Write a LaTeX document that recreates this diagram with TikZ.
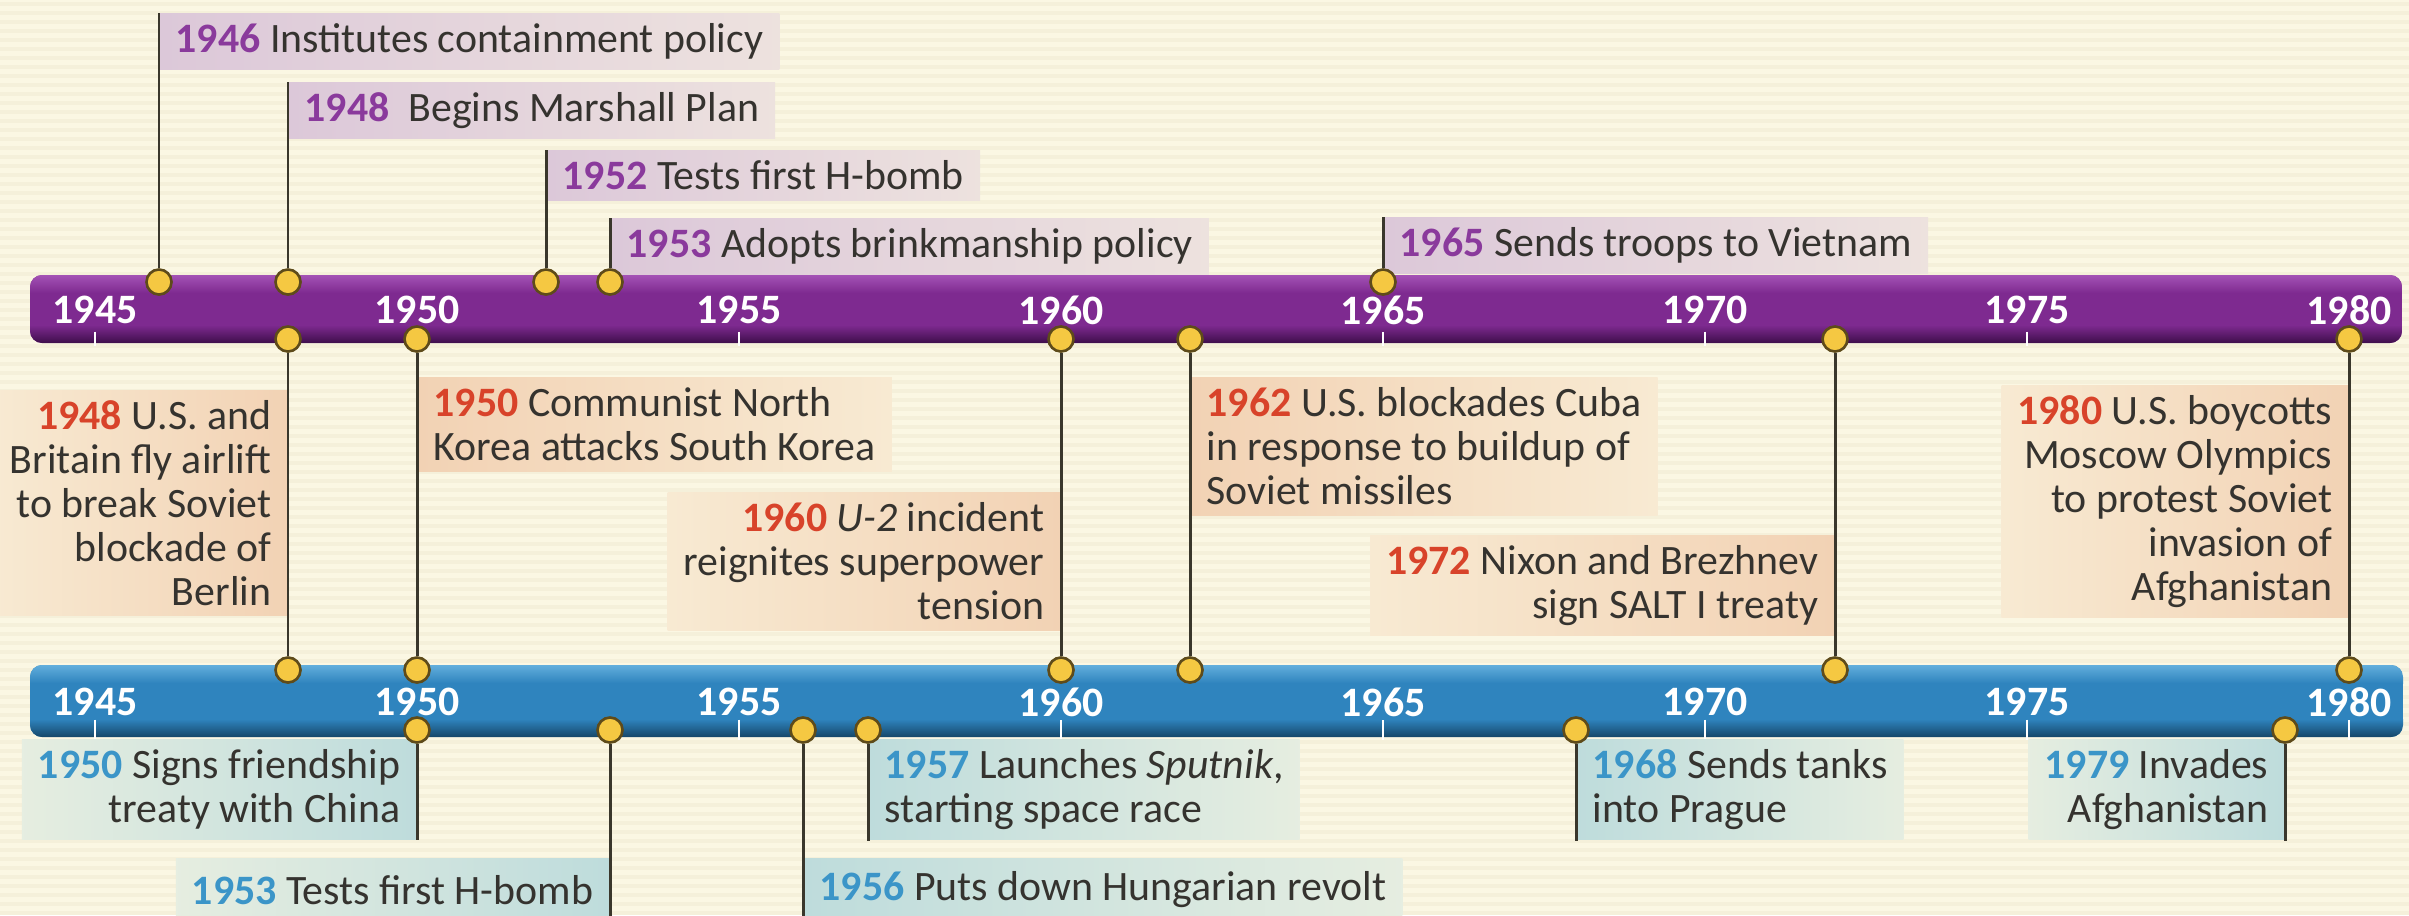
\documentclass[tikz,border=0pt]{standalone}
\usepackage{fontspec}
\setmainfont{Carlito}
\usepackage{xcolor}
\usepackage{tikz}
\usetikzlibrary{positioning,calc}

\definecolor{paper}{HTML}{FBF7E3}
\definecolor{stripe}{HTML}{F5F0DA}
\definecolor{usapurple}{HTML}{7E2A90}
\definecolor{usapurplelt}{HTML}{A452B5}
\definecolor{usapurpledk}{HTML}{3E0E4B}
\definecolor{ussrblue}{HTML}{2F84BE}
\definecolor{ussrbluelt}{HTML}{62AEDC}
\definecolor{ussrbluedk}{HTML}{164769}
\definecolor{dotfill}{HTML}{F5C842}
\definecolor{dotline}{HTML}{5E4B1A}
\definecolor{stemgray}{HTML}{3A372C}
\definecolor{mauve}{HTML}{DCC8D9}
\definecolor{peach}{HTML}{F2D2B4}
\definecolor{paleteal}{HTML}{BEDCDC}
\definecolor{yrpurple}{HTML}{8A3A9C}
\definecolor{yrred}{HTML}{D8432A}
\definecolor{yrblue}{HTML}{3B95C8}
\definecolor{ink}{HTML}{35332F}

\newcommand{\yr}[2]{\textcolor{#1}{\textbf{#2}}}

\begin{document}
\begin{tikzpicture}[x=0.01cm, y=-0.01cm,
    font=\fontsize{11.9}{12.5}\selectfont, text=ink,
    knob/.style={circle, draw=dotline, fill=dotfill, line width=0.75pt, inner sep=0pt, minimum size=0.25cm},
    stemline/.style={draw=stemgray, line width=0.85pt},
    yeartick/.style={text=white, font=\fontsize{11.9}{12}\selectfont\bfseries, inner sep=0pt},
    barmark/.style={white, line width=0.6pt},
    tagbox/.style={inner xsep=0.16cm, inner ysep=0.1cm},
    upR/.style={tagbox, anchor=north west, align=left, left color=mauve, right color=mauve!45!paper},
    midR/.style={tagbox, anchor=north west, align=left, left color=peach, right color=peach!35!paper},
    midL/.style={tagbox, anchor=north east, align=right, left color=peach!35!paper, right color=peach},
    lowR/.style={tagbox, anchor=north west, align=left, left color=paleteal, right color=paleteal!35!paper},
    lowL/.style={tagbox, anchor=north east, align=right, left color=paleteal!35!paper, right color=paleteal}]

  % Paper with faint rules
  \useasboundingbox (0,0) rectangle (2409,915);
  \clip (0,0) rectangle (2409,915);
  \fill[paper] (0,0) rectangle (2409,915);
  \foreach \sy in {4,13,...,913} \draw[stripe, line width=0.035cm] (0,\sy) -- (2409,\sy);

  % United States bar
  \begin{scope}
    \clip[rounded corners=0.12cm] (30,275) rectangle (2402,343);
    \fill[usapurple] (30,275) rectangle (2402,343);
    \shade[top color=usapurplelt, bottom color=usapurple] (30,275) rectangle (2402,293);
    \shade[top color=usapurple, bottom color=usapurpledk] (30,325) rectangle (2402,343);
  \end{scope}
  \foreach \yy in {1945,1950,...,1980} {
    \node[yeartick] (pk\yy) at ({95+64.4*(\yy-1945)},310) {\yy};
    \draw[barmark] (pk\yy.south) ++(0,7) -- +(0,14);
  }

  % Soviet Union bar
  \begin{scope}
    \clip[rounded corners=0.12cm] (30,665) rectangle (2403,737);
    \fill[ussrblue] (30,665) rectangle (2403,737);
    \shade[top color=ussrbluelt, bottom color=ussrblue] (30,665) rectangle (2403,683);
    \shade[top color=ussrblue, bottom color=ussrbluedk] (30,719) rectangle (2403,737);
  \end{scope}
  \foreach \yy in {1945,1950,...,1980} {
    \node[yeartick] (sk\yy) at ({95+64.4*(\yy-1945)},702) {\yy};
    \draw[barmark] (sk\yy.south) ++(0,3) -- +(0,20);
  }

  % U.S. events above
  \node[upR] (u46) at (159,13) {\yr{yrpurple}{1946} Institutes containment policy};
  \node[upR] (u48) at (288,82) {\yr{yrpurple}{1948}\ \ Begins Marshall Plan};
  \node[upR] (u52) at (546,150) {\yr{yrpurple}{1952} Tests first H-bomb};
  \node[upR] (u53) at (610,218) {\yr{yrpurple}{1953} Adopts brinkmanship policy};
  \node[upR] (u65) at (1383,217) {\yr{yrpurple}{1965} Sends troops to Vietnam};

  % U.S.--Soviet events between the bars
  \node[midL] (m48) at (288,390) {\yr{yrred}{1948} U.S. and\\Britain fly airlift\\to break Soviet\\blockade of\\Berlin};
  \node[midR] (m50) at (417,377) {\yr{yrred}{1950} Communist North\\Korea attacks South Korea};
  \node[midL] (m60) at (1061,492) {\yr{yrred}{1960} \textit{U-2} incident\\reignites superpower\\tension};
  \node[midR] (m62) at (1190,377) {\yr{yrred}{1962} U.S. blockades Cuba\\in response to buildup of\\Soviet missiles};
  \node[midL] (m72) at (1835,535) {\yr{yrred}{1972} Nixon and Brezhnev\\sign SALT I treaty};
  \node[midL] (m80) at (2349,385) {\yr{yrred}{1980} U.S. boycotts\\Moscow Olympics\\to protest Soviet\\invasion of\\Afghanistan};

  % Soviet events below
  \node[lowL] (l50) at (417,739) {\yr{yrblue}{1950} Signs friendship\\treaty with China};
  \node[lowL, minimum height=0.62cm] (l53) at (610,858) {\yr{yrblue}{1953} Tests first H-bomb};
  \node[lowR, minimum height=0.62cm] (l56) at (803,858) {\yr{yrblue}{1956} Puts down Hungarian revolt};
  \node[lowR] (l57) at (868,739) {\yr{yrblue}{1957} Launches \textit{Sputnik},\\starting space race};
  \node[lowR] (l68) at (1576,739) {\yr{yrblue}{1968} Sends tanks\\into Prague};
  \node[lowL] (l79) at (2285,739) {\yr{yrblue}{1979} Invades\\Afghanistan};

  % Dots on the bars
  \foreach \xx/\nm in {159/ta46, 288/ta48, 546/ta52, 610/ta53, 1383/ta65}
    \node[knob] (\nm) at (\xx,282) {};
  \foreach \xx/\nm in {288/pb48, 417/pb50, 1061/pb60, 1190/pb62, 1835/pb72, 2349/pb80}
    \node[knob] (\nm) at (\xx,339) {};
  \foreach \xx/\nm in {288/bt48, 417/bt50, 1061/bt60, 1190/bt62, 1835/bt72, 2349/bt80}
    \node[knob] (\nm) at (\xx,670) {};
  \foreach \xx/\nm in {417/bb50, 610/bb53, 803/bb56, 868/bb57, 1576/bb68, 2285/bb79}
    \node[knob] (\nm) at (\xx,730) {};

  % Stems
  \foreach \nm/\lb in {ta46/u46, ta48/u48, ta52/u52, ta53/u53, ta65/u65}
    \draw[stemline] (\nm) -- (\nm |- \lb.north);
  \foreach \a/\b in {pb48/bt48, pb50/bt50, pb60/bt60, pb62/bt62, pb72/bt72, pb80/bt80}
    \draw[stemline] (\a) -- (\b);
  \foreach \nm/\lb in {bb50/l50, bb53/l53, bb56/l56, bb57/l57, bb68/l68, bb79/l79}
    \draw[stemline] (\nm) -- (\nm |- \lb.south);
\end{tikzpicture}
\end{document}
